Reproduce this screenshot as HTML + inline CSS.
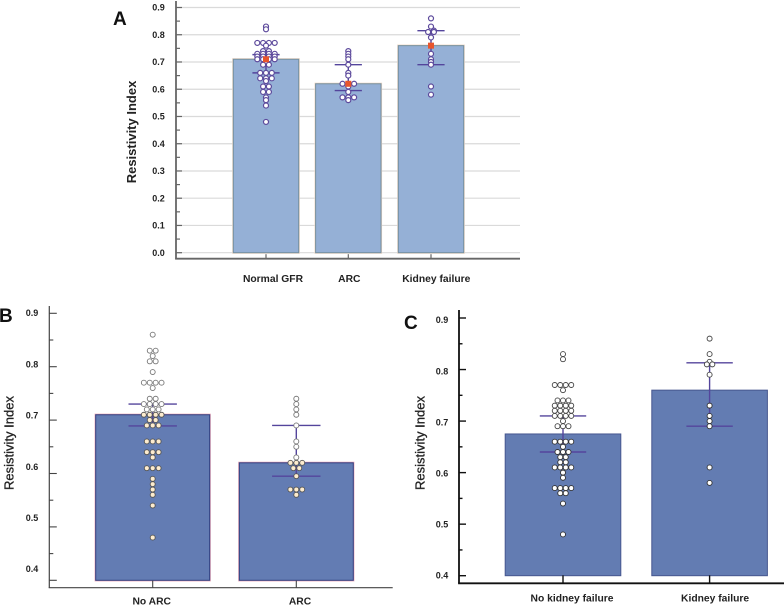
<!DOCTYPE html>
<html>
<head>
<meta charset="utf-8">
<style>
html,body{margin:0;padding:0;background:#fff;width:784px;height:605px;overflow:hidden}
svg{display:block;filter:blur(0.3px)}
text{font-family:"Liberation Sans",sans-serif;fill:#222}
.tick-label{font-size:9px;font-weight:bold;text-anchor:middle}
.cat-label{font-size:10.3px;font-weight:bold;text-anchor:middle}
.panel-letter{font-size:19px;font-weight:bold;fill:#111}
.axis-title{font-size:13px;text-anchor:middle}
.axis-title-medium{stroke:#222;stroke-width:0.3px}
</style>
</head>
<body>
<svg id="figure" width="784" height="605" viewBox="0 0 784 605" xmlns="http://www.w3.org/2000/svg">
  <g id="panel-a"></g>
  <g id="panel-b"></g>
  <g id="panel-c"></g>
  <text class="panel-letter" x="113" y="25">A</text>
  <text class="panel-letter" x="-1" y="322">B</text>
  <text class="panel-letter" x="404" y="329">C</text>
  <text class="axis-title" style="font-weight:bold" transform="translate(136,132) rotate(-90)">Resistivity Index</text>
  <text class="axis-title axis-title-medium" transform="translate(13.5,443) rotate(-90)">Resistivity Index</text>
  <text class="axis-title axis-title-medium" transform="translate(424.5,443) rotate(-90)">Resistivity Index</text>
</svg>
<script>
// ---------- Panel A data ----------
const aCategories = ['Normal GFR', 'ARC', 'Kidney failure'];
const aMeans = [0.71, 0.62, 0.76];
const aUpper = [0.727, 0.69, 0.815];
const aLower = [0.66, 0.595, 0.69];
const aNormalValues = [0.83,0.82,0.77,0.77,0.77,0.77,0.76,0.74,0.74,0.73,0.73,0.73,0.73,0.72,0.72,0.72,0.72,0.71,0.71,0.71,0.71,0.70,0.69,0.69,0.66,0.66,0.66,0.64,0.64,0.64,0.63,0.61,0.61,0.59,0.59,0.57,0.56,0.54,0.48];
const aArcValues = [0.74,0.73,0.72,0.71,0.69,0.66,0.65,0.62,0.62,0.62,0.61,0.59,0.57,0.57,0.57,0.56];
const aKidneyValues = [0.86,0.83,0.815,0.81,0.81,0.79,0.73,0.71,0.70,0.69,0.61,0.58];
const aTicks = [0.0,0.1,0.2,0.3,0.4,0.5,0.6,0.7,0.8,0.9];
const aTickLabels = ['0.0','0.1','0.2','0.3','0.4','0.5','0.6','0.7','0.8','0.9'];

// ---------- Panel B data ----------
const bCategories = ['No ARC', 'ARC'];
const bMeans = [0.71, 0.62];
const bUpper = [0.73, 0.69];
const bLower = [0.689, 0.595];
const bNoArcValues = [0.86,0.83,0.83,0.82,0.81,0.81,0.79,0.77,0.77,0.77,0.77,0.76,0.74,0.74,0.73,0.73,0.73,0.73,0.72,0.72,0.72,0.71,0.71,0.71,0.71,0.70,0.70,0.69,0.69,0.69,0.66,0.66,0.66,0.64,0.64,0.64,0.63,0.61,0.61,0.61,0.59,0.58,0.57,0.56,0.54,0.48];
const bArcValues = [0.74,0.73,0.72,0.71,0.69,0.66,0.65,0.63,0.62,0.62,0.62,0.61,0.61,0.595,0.57,0.57,0.57,0.56];
const bTicks = [0.4,0.5,0.6,0.7,0.8,0.9];
const bTickLabels = ['0.4','0.5','0.6','0.7','0.8','0.9'];

// ---------- Panel C data ----------
const cCategories = ['No kidney failure', 'Kidney failure'];
const cMeans = [0.675, 0.76];
const cUpper = [0.71, 0.813];
const cLower = [0.64, 0.69];
const cNoKidneyValues = [0.83,0.82,0.77,0.77,0.77,0.77,0.76,0.74,0.74,0.74,0.73,0.73,0.73,0.73,0.72,0.72,0.72,0.72,0.71,0.71,0.71,0.71,0.70,0.69,0.69,0.69,0.66,0.66,0.66,0.66,0.65,0.64,0.64,0.64,0.63,0.63,0.62,0.62,0.61,0.61,0.61,0.61,0.60,0.59,0.57,0.57,0.57,0.57,0.56,0.56,0.54,0.48];
const cKidneyValues = [0.86,0.83,0.815,0.81,0.81,0.79,0.73,0.71,0.70,0.69,0.61,0.58];
const cTicks = [0.4,0.5,0.6,0.7,0.8,0.9];
const cTickLabels = ['0.4','0.5','0.6','0.7','0.8','0.9'];

// ---------- Layout ----------
const SVGNS = 'http://www.w3.org/2000/svg';
function make(parent, tag, attrs) {
  const el = document.createElementNS(SVGNS, tag);
  for (const k in attrs) el.setAttribute(k, attrs[k]);
  parent.appendChild(el);
  return el;
}
function linear(d0, d1, r0, r1) {
  return v => r0 + (v - d0) * (r1 - r0) / (d1 - d0);
}
function swarm(values, step, size) {
  const rows = new Map();
  values.forEach(v => rows.set(v, (rows.get(v) || 0) + 1));
  const keys = [...rows.keys()].sort((p, q) => q - p);
  const out = [];
  let prev = [];
  keys.forEach(key => {
    const n = rows.get(key);
    const base = [];
    for (let i = 0; i < n; i++) base.push((i - (n - 1) / 2) * step);
    let chosen = base;
    for (const shift of [0, step / 2, -step / 2]) {
      const cand = base.map(o => o + shift);
      const hit = cand.some(o => prev.some(p => Math.hypot(o - p.offset, size.y(key) - size.y(p.value)) < size.min));
      if (!hit) { chosen = cand; break; }
    }
    const row = chosen.map(o => ({ value: key, offset: o }));
    row.forEach(r => out.push(r));
    prev = row;
  });
  return out;
}

function drawPanel(cfg) {
  const g = document.getElementById(cfg.id);
  const y = linear(cfg.yRef[0], cfg.yRef[1], cfg.yRef[2], cfg.yRef[3]);
  const labelY = linear(cfg.labelRef[0], cfg.labelRef[1], cfg.labelRef[2], cfg.labelRef[3]);
  const x = i => cfg.centers[i];

  // gridlines
  if (cfg.grid) {
    cfg.ticks.forEach(t => {
      const line = make(g, 'line', { x1: cfg.axisX, x2: cfg.axisRight, y1: y(t), y2: y(t), stroke: '#dadada', 'stroke-width': 1.2 });
      
      
    });
  }

  // bars
  cfg.means.forEach((m, i) => {
    if (cfg.halo) {
      const halo = make(g, 'rect', { x: x(i) - cfg.barW / 2 - 0.6, y: y(m) - 0.6, width: cfg.barW + 1.2, height: y(cfg.base) - y(m) + 1.2, fill: 'none', stroke: cfg.halo, 'stroke-width': 1 });
      
      
    }
    const bar = make(g, 'rect', { x: x(i) - cfg.barW / 2, y: y(m), width: cfg.barW, height: y(cfg.base) - y(m), fill: cfg.barFill, stroke: cfg.barStroke, 'stroke-width': 1 });
    
    
  });

  // error bars
  cfg.means.forEach((m, i) => {
    const stem = make(g, 'line', { x1: x(i), x2: x(i), y1: y(cfg.upper[i]), y2: y(cfg.lower[i]), stroke: '#54459c', 'stroke-width': 1.4 });
    
    
    const top = make(g, 'line', { x1: x(i) - cfg.capW, x2: x(i) + cfg.capW, y1: y(cfg.upper[i]), y2: y(cfg.upper[i]), stroke: '#54459c', 'stroke-width': 1.4 });
    
    
    const low = make(g, 'line', { x1: x(i) - cfg.capW, x2: x(i) + cfg.capW, y1: y(cfg.lower[i]), y2: y(cfg.lower[i]), stroke: '#54459c', 'stroke-width': 1.4 });
    
    
  });

  // data points
  cfg.series.forEach((vals, i) => {
    swarm(vals, cfg.dotStep, { y: y, min: cfg.dotStep * 0.75 }).forEach(p => {
      const above = p.value > cfg.means[i];
      const dot = make(g, 'circle', {
        cx: x(i) + p.offset, cy: y(p.value), r: cfg.dotR,
        fill: above ? cfg.dotFillAbove : cfg.dotFillBelow,
        stroke: above ? cfg.dotStrokeAbove : cfg.dotStrokeBelow,
        'stroke-width': cfg.dotSW
      });
      
      
    });
  });

  // mean markers
  if (cfg.meanMarker) {
    cfg.means.forEach((m, i) => {
      const mk = make(g, 'rect', { x: x(i) - 3, y: y(m) - 3, width: 6, height: 6, fill: '#e8552d' });
      
      
    });
  }

  // axes
  const yAxis = make(g, 'line', { x1: cfg.axisX, x2: cfg.axisX, y1: cfg.axisTop, y2: cfg.axisBottom, stroke: cfg.axisColor, 'stroke-width': cfg.axisSW });
  
  
  const xAxis = make(g, 'line', { x1: cfg.axisX - cfg.axisSW / 2, x2: cfg.axisRight, y1: cfg.axisBottom, y2: cfg.axisBottom, stroke: cfg.axisColor, 'stroke-width': cfg.axisSW });
  
  

  // y ticks and labels
  cfg.ticks.forEach((t, i) => {
    const tick = make(g, 'line', { x1: cfg.axisX, x2: cfg.axisX + cfg.majorLen, y1: y(t), y2: y(t), stroke: cfg.axisColor, 'stroke-width': cfg.tickSW });
    
    
    if (i < cfg.ticks.length - 1) {
      const mid = (t + cfg.ticks[i + 1]) / 2;
      const minor = make(g, 'line', { x1: cfg.axisX, x2: cfg.axisX + cfg.minorLen, y1: y(mid), y2: y(mid), stroke: cfg.axisColor, 'stroke-width': cfg.tickSW });
      
      
    }
    const lab = make(g, 'text', { x: cfg.labelX, y: labelY(t), dy: '0.35em', class: 'tick-label' });
    lab.textContent = cfg.tickLabels[i];
    
    
  });

  // category ticks and labels
  cfg.categories.forEach((c, i) => {
    const tick = make(g, 'line', { x1: x(i), x2: x(i), y1: cfg.axisBottom - cfg.xTickLen, y2: cfg.axisBottom, stroke: cfg.axisColor, 'stroke-width': cfg.tickSW });
    
    
    const lab = make(g, 'text', { x: x(i) + cfg.catDx[i], y: cfg.catY, dy: '0.35em', class: 'cat-label' });
    lab.textContent = c;
    
    
  });
}

drawPanel({
  id: 'panel-a', yRef: [0, 0.9, 252.7, 7.5], labelRef: [0, 0.9, 252.7, 7.5], base: 0,
  centers: [266, 348.3, 431], barW: 65.4, capW: 13.6,
  categories: aCategories, means: aMeans, upper: aUpper, lower: aLower,
  series: [aNormalValues, aArcValues, aKidneyValues],
  ticks: aTicks, tickLabels: aTickLabels, grid: true, meanMarker: true,
  barFill: '#95b0d6', barStroke: '#75909f', halo: '#f1d9c8',
  dotR: 2.5, dotSW: 1.2, dotStep: 5.8,
  dotFillAbove: '#fff', dotFillBelow: '#fff', dotStrokeAbove: '#5d4a9c', dotStrokeBelow: '#5d4a9c',
  axisX: 176, axisTop: 1, axisBottom: 258.7, axisRight: 520, axisColor: '#666', axisSW: 1.8, tickSW: 1.2,
  majorLen: 6, minorLen: 4, xTickLen: 4.5, labelX: 158.5, catDx: [7, 1, 5.3], catY: 278.3
});

drawPanel({
  id: 'panel-b', yRef: [0.4, 0.9, 580.3, 313.3], labelRef: [0.4, 0.9, 569, 313], base: 0.4,
  centers: [152.7, 296.3], barW: 114, capW: 24.2,
  categories: bCategories, means: bMeans, upper: bUpper, lower: bLower,
  series: [bNoArcValues, bArcValues],
  ticks: bTicks, tickLabels: bTickLabels, grid: false, meanMarker: false,
  barFill: '#637cb3', barStroke: '#2f3f80', halo: '#eea9b8',
  dotR: 2.5, dotSW: 0.9, dotStep: 5.9,
  dotFillAbove: '#fff', dotFillBelow: '#fdeccf', dotStrokeAbove: '#777', dotStrokeBelow: '#555',
  axisX: 49.3, axisTop: 306, axisBottom: 587.7, axisRight: 392.7, axisColor: '#444', axisSW: 1.2, tickSW: 1.1,
  majorLen: 7.5, minorLen: 4, xTickLen: 7, labelX: 32, catDx: [-1, 3.7], catY: 601
});

drawPanel({
  id: 'panel-c', yRef: [0.4, 0.9, 575.7, 318], labelRef: [0.4, 0.9, 575.5, 320], base: 0.4,
  centers: [563, 709.6], barW: 115.6, capW: 23.2,
  categories: cCategories, means: cMeans, upper: cUpper, lower: cLower,
  series: [cNoKidneyValues, cKidneyValues],
  ticks: cTicks, tickLabels: cTickLabels, grid: false, meanMarker: false,
  barFill: '#637cb2', barStroke: '#47578f', halo: '',
  dotR: 2.5, dotSW: 0.9, dotStep: 5.5,
  dotFillAbove: '#fff', dotFillBelow: '#fff', dotStrokeAbove: '#444', dotStrokeBelow: '#333',
  axisX: 459, axisTop: 310, axisBottom: 583.3, axisRight: 784, axisColor: '#111', axisSW: 1.8, tickSW: 1.4,
  majorLen: 7, minorLen: 3.5, xTickLen: 8, labelX: 442, catDx: [9, 5.5], catY: 597.7
});
</script>
</body>
</html>
